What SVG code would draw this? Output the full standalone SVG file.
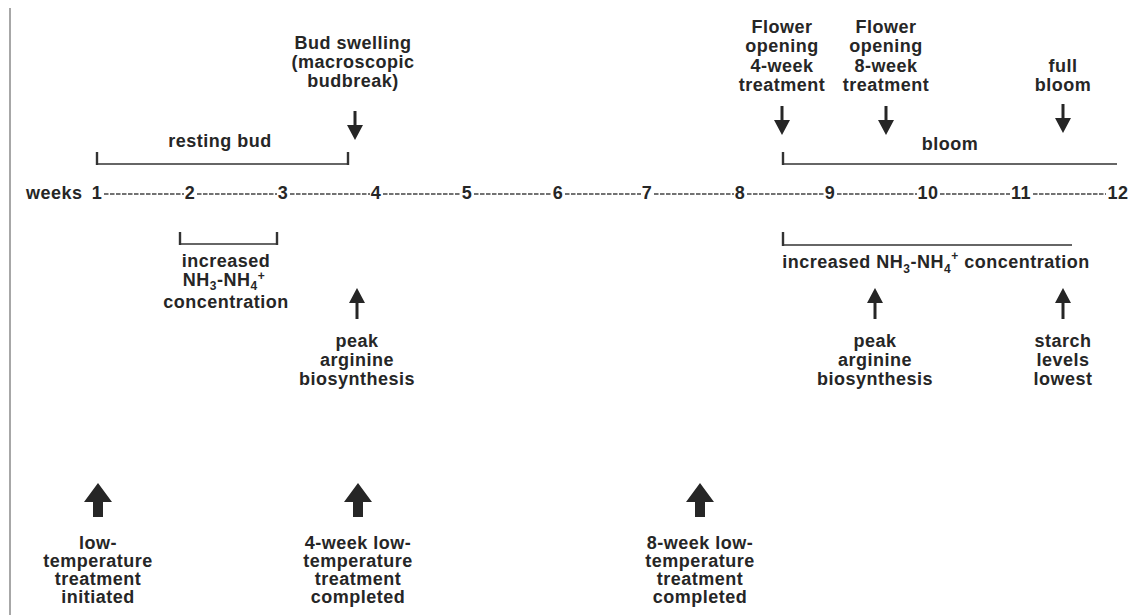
<svg xmlns="http://www.w3.org/2000/svg" width="1132" height="615" viewBox="0 0 1132 615">
<style>
  text { font-family: "Liberation Sans", Arial, sans-serif; font-weight: bold; font-size: 18px; fill: #262626; letter-spacing: 0.5px; }
  .c { text-anchor: middle; }
  .sub { font-size: 12px; }
  .br { stroke: #333; stroke-width: 1.6; fill: none; }
  .tick { stroke: #333; stroke-width: 2.4; fill: none; }
  .dash { stroke: #444; stroke-width: 1.6; stroke-dasharray: 4.5 1.5; }
  .shaft { stroke: #262626; stroke-width: 3; }
  .head { fill: #262626; }
</style>
<defs>
  <g id="down">
    <line class="shaft" x1="0" y1="0" x2="0" y2="15"/>
    <polygon class="head" points="-8,14 8,14 0,29"/>
  </g>
  <g id="up">
    <line class="shaft" x1="0" y1="14" x2="0" y2="31"/>
    <polygon class="head" points="-8,15 8,15 0,0"/>
  </g>
  <polygon id="bigup" class="head" points="0,0 14,19 5,19 5,34 -5,34 -5,19 -14,19"/>
</defs>

<rect width="1132" height="615" fill="#ffffff"/>
<line x1="10" y1="8" x2="10" y2="615" stroke="#8a8a8a" stroke-width="1.5"/>

<g id="axis">
  <text x="26" y="199">weeks</text>
  <text class="c" x="97" y="199">1</text>
  <text class="c" x="190" y="199">2</text>
  <text class="c" x="283" y="199">3</text>
  <text class="c" x="376" y="199">4</text>
  <text class="c" x="467" y="199">5</text>
  <text class="c" x="558" y="199">6</text>
  <text class="c" x="647" y="199">7</text>
  <text class="c" x="740" y="199">8</text>
  <text class="c" x="830" y="199">9</text>
  <text class="c" x="928" y="199">10</text>
  <text class="c" x="1021" y="199">11</text>
  <text class="c" x="1118" y="199">12</text>
</g>

<g id="connectors">
  <!-- dashed week line -->
  <line class="dash" x1="104" y1="194" x2="184" y2="194"/>
  <line class="dash" x1="197" y1="194" x2="277" y2="194"/>
  <line class="dash" x1="290" y1="194" x2="370" y2="194"/>
  <line class="dash" x1="383" y1="194" x2="461" y2="194"/>
  <line class="dash" x1="474" y1="194" x2="552" y2="194"/>
  <line class="dash" x1="565" y1="194" x2="641" y2="194"/>
  <line class="dash" x1="654" y1="194" x2="734" y2="194"/>
  <line class="dash" x1="747" y1="194" x2="824" y2="194"/>
  <line class="dash" x1="837" y1="194" x2="917" y2="194"/>
  <line class="dash" x1="940" y1="194" x2="1010" y2="194"/>
  <line class="dash" x1="1033" y1="194" x2="1106" y2="194"/>

  <!-- brackets -->
  <line class="tick" x1="97" y1="152" x2="97" y2="165"/>
  <line class="br" x1="97" y1="164" x2="348" y2="164"/>
  <line class="tick" x1="348" y1="152" x2="348" y2="165"/>

  <line class="tick" x1="783" y1="152" x2="783" y2="165"/>
  <line class="br" x1="783" y1="164" x2="1117" y2="164"/>

  <line class="tick" x1="180" y1="232" x2="180" y2="245"/>
  <line class="br" x1="180" y1="244" x2="277" y2="244"/>
  <line class="tick" x1="277" y1="232" x2="277" y2="245"/>

  <line class="tick" x1="783" y1="232" x2="783" y2="246"/>
  <line class="br" x1="783" y1="245" x2="1072" y2="245"/>

  <!-- down arrows -->
  <use href="#down" x="355" y="111"/>
  <use href="#down" x="782" y="106"/>
  <use href="#down" x="886" y="106"/>
  <use href="#down" x="1063" y="104"/>

  <!-- up arrows -->
  <use href="#up" x="357" y="288"/>
  <use href="#up" x="875" y="288"/>
  <use href="#up" x="1063" y="288"/>

  <!-- thick up arrows -->
  <use href="#bigup" x="98" y="483"/>
  <use href="#bigup" x="358" y="483"/>
  <use href="#bigup" x="700" y="483"/>
</g>

<g id="bud-swelling">
  <text class="c" x="353" y="49">Bud swelling</text>
  <text class="c" x="353" y="68">(macroscopic</text>
  <text class="c" x="353" y="87">budbreak)</text>
</g>

<g id="flower-4wk">
  <text class="c" x="782" y="33">Flower</text>
  <text class="c" x="782" y="52">opening</text>
  <text class="c" x="782" y="72">4-week</text>
  <text class="c" x="782" y="91">treatment</text>
</g>

<g id="flower-8wk">
  <text class="c" x="886" y="33">Flower</text>
  <text class="c" x="886" y="52">opening</text>
  <text class="c" x="886" y="72">8-week</text>
  <text class="c" x="886" y="91">treatment</text>
</g>

<g id="full-bloom">
  <text class="c" x="1063" y="72">full</text>
  <text class="c" x="1063" y="91">bloom</text>
</g>

<g id="resting-bud">
  <text class="c" x="220" y="147">resting bud</text>
</g>

<g id="bloom">
  <text class="c" x="950" y="150">bloom</text>
</g>

<g id="nh-left">
  <text class="c" x="226" y="267">increased</text>
  <text class="c" x="224" y="286">NH<tspan class="sub" dy="4">3</tspan><tspan dy="-4">-NH</tspan><tspan class="sub" dy="4">4</tspan><tspan class="sub" dy="-10">+</tspan></text>
  <text class="c" x="226" y="308">concentration</text>
</g>

<g id="nh-right">
  <text class="c" x="936" y="268">increased NH<tspan class="sub" dy="5">3</tspan><tspan dy="-5">-NH</tspan><tspan class="sub" dy="5">4</tspan><tspan class="sub" dy="-13">+</tspan><tspan dy="8"> concentration</tspan></text>
</g>

<g id="peak-arginine-1">
  <text class="c" x="357" y="347">peak</text>
  <text class="c" x="357" y="366">arginine</text>
  <text class="c" x="357" y="385">biosynthesis</text>
</g>

<g id="peak-arginine-2">
  <text class="c" x="875" y="347">peak</text>
  <text class="c" x="875" y="366">arginine</text>
  <text class="c" x="875" y="385">biosynthesis</text>
</g>

<g id="starch">
  <text class="c" x="1063" y="347">starch</text>
  <text class="c" x="1063" y="366">levels</text>
  <text class="c" x="1063" y="385">lowest</text>
</g>

<g id="lt-initiated">
  <text class="c" x="98" y="549">low-</text>
  <text class="c" x="98" y="567">temperature</text>
  <text class="c" x="98" y="585">treatment</text>
  <text class="c" x="98" y="603">initiated</text>
</g>

<g id="lt-4wk">
  <text class="c" x="358" y="549">4-week low-</text>
  <text class="c" x="358" y="567">temperature</text>
  <text class="c" x="358" y="585">treatment</text>
  <text class="c" x="358" y="603">completed</text>
</g>

<g id="lt-8wk">
  <text class="c" x="700" y="549">8-week low-</text>
  <text class="c" x="700" y="567">temperature</text>
  <text class="c" x="700" y="585">treatment</text>
  <text class="c" x="700" y="603">completed</text>
</g>
</svg>
